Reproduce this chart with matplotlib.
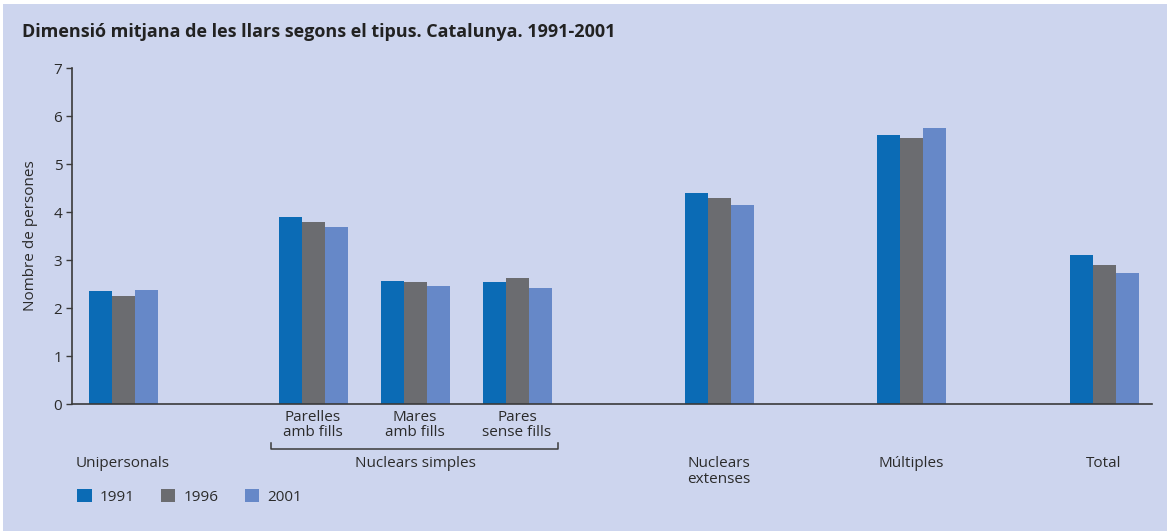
import matplotlib
matplotlib.use("Agg")
import matplotlib.pyplot as plt
from matplotlib.patches import Rectangle, Patch

# data
groups = ["Unipersonals", "Parelles\namb fills", "Mares\namb fills", "Pares\nsense fills",
          "Nuclears\nextenses", "Múltiples", "Total"]
years = ["1991", "1996", "2001"]
v1991 = [2.35, 3.90, 2.56, 2.54, 4.40, 5.60, 3.10]
v1996 = [2.25, 3.79, 2.54, 2.62, 4.29, 5.54, 2.90]
v2001 = [2.38, 3.69, 2.46, 2.42, 4.15, 5.75, 2.73]
colors = ["#0b6bb5", "#6b6c70", "#6688c8"]

# group centres (layout only)
centres = [1.23, 3.13, 4.15, 5.17, 7.19, 9.11, 11.04]
bw = 0.23

W, H = 1170, 531
bg = "#cdd5ee"
txt = "#2b2b2b"
plt.rcParams["font.family"] = ["Open Sans", "DejaVu Sans"]

fig = plt.figure(figsize=(W / 100, H / 100), dpi=100, facecolor="white")
fig.patches.append(Rectangle((3 / W, 0), 1 - 6 / W, 1 - 4 / H, transform=fig.transFigure,
                             facecolor=bg, edgecolor="none", zorder=-10))


def fx(px):
    return px / W


def fy(py):
    return 1 - py / H


ax = fig.add_axes([fx(72), fy(404), fx(1152) - fx(72), fy(68) - fy(404)])
ax.set_facecolor("none")

for i, (vals, c) in enumerate(zip([v1991, v1996, v2001], colors)):
    ax.bar([x + (i - 1) * bw for x in centres], vals, width=bw, color=c, linewidth=0)

ax.set_xlim(0.72, 11.52)
ax.set_ylim(0, 7)
ax.set_yticks(range(8))
ax.set_xticks([])
for s in ["top", "right"]:
    ax.spines[s].set_visible(False)
for s in ["left", "bottom"]:
    ax.spines[s].set_color("#3a3a3a")
    ax.spines[s].set_linewidth(1.2)
ax.tick_params(axis="y", direction="out", length=4, width=1, color="#3a3a3a",
               labelsize=11, labelcolor=txt, pad=3)
ax.set_ylabel("Nombre de persones", fontsize=11, color=txt)
ax.yaxis.set_label_coords(-(72 - 38) / 1080, 0.5)

fig.text(fx(22), fy(32), "Dimensió mitjana de les llars segons el tipus. Catalunya. 1991-2001",
         fontsize=13, fontweight="bold", color="#222222", ha="left", va="center")

tr = ax.get_xaxis_transform()


def ay(py):
    return (404 - py) / 336


# sub-labels of nuclears simples
for k in [1, 2, 3]:
    ax.text(centres[k], ay(410), groups[k], transform=tr, ha="center", va="top",
            fontsize=11, color=txt, linespacing=1.0)

# main category labels
for k in [0, 4, 5, 6]:
    ax.text(centres[k], ay(456), groups[k], transform=tr, ha="center", va="top",
            fontsize=11, color=txt, linespacing=1.05)
ax.text((centres[1] + centres[3]) / 2, ay(456), "Nuclears simples", transform=tr,
        ha="center", va="top", fontsize=11, color=txt)

# bracket under the nuclears simples group
bx0, bx1 = 2.71, 5.58
ax.plot([bx0, bx0, bx1, bx1], [ay(443), ay(449), ay(449), ay(443)], transform=tr,
        color="#3a3a3a", lw=1.1, clip_on=False)

handles = [Patch(facecolor=c, edgecolor="none") for c in colors]
fig.legend(handles, years, loc="center left", bbox_to_anchor=(fx(77), fy(497)), ncol=3,
           frameon=False, fontsize=11, handlelength=0.95, handleheight=0.95, borderpad=0,
           borderaxespad=0, handletextpad=0.55, columnspacing=1.7, labelcolor=txt)

fig.savefig("out.png", dpi=100, facecolor=fig.get_facecolor())
